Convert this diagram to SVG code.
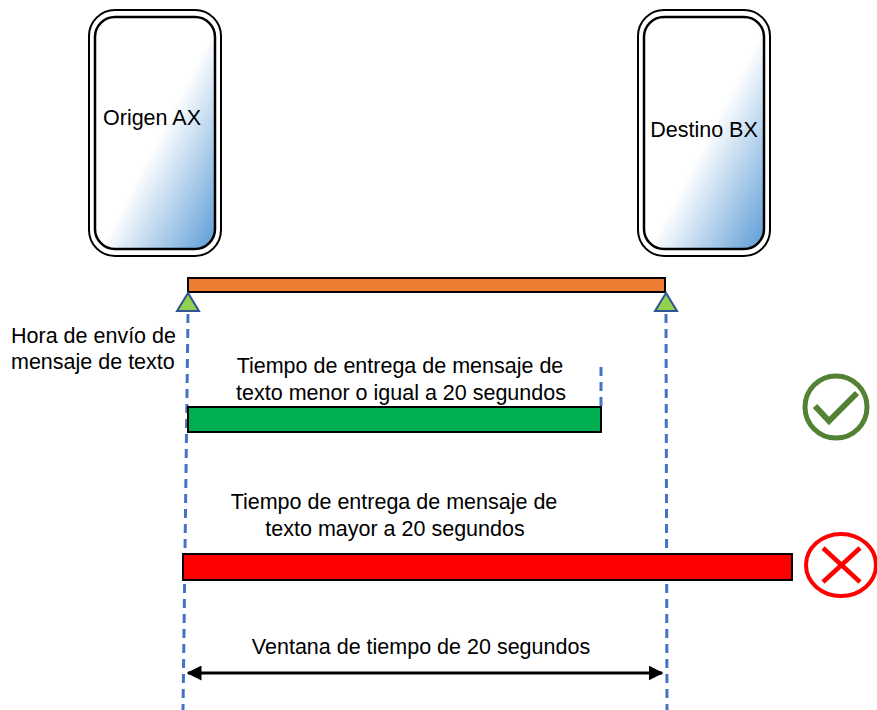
<svg xmlns="http://www.w3.org/2000/svg" width="877" height="710" viewBox="0 0 877 710">
<defs>
<linearGradient id="ph" x1="0" y1="0" x2="1" y2="1">
<stop offset="0" stop-color="#ffffff"/>
<stop offset="0.52" stop-color="#ffffff"/>
<stop offset="1" stop-color="#5b9bd5"/>
</linearGradient>
<marker id="ah" viewBox="0 0 10 10" refX="9" refY="5" markerWidth="5" markerHeight="5" orient="auto-start-reverse" markerUnits="strokeWidth">
<path d="M0,0 L10,5 L0,10 z" fill="#000"/>
</marker>
<style>
.t{font-family:"Liberation Sans",Arial,sans-serif;font-size:21.5px;fill:#000}
.outer{fill:#fff;stroke:#000;stroke-width:2}
.inner{fill:url(#ph);stroke:#000;stroke-width:2.5}
.dash{stroke:#4472c4;stroke-width:3;stroke-dasharray:9,6;fill:none}
.bar{stroke:#000;stroke-width:2}
.tri{fill:#92d050;stroke:#2f5597;stroke-width:2}
</style>
</defs>
<rect width="877" height="710" fill="#fff"/>
<g id="origen">
<rect class="outer" x="89" y="10" width="132" height="246" rx="26"/>
<rect class="inner" x="95" y="17" width="120" height="232" rx="20"/>
<text class="t" x="152" y="125" text-anchor="middle">Origen AX</text>
</g>
<g id="destino">
<rect class="outer" x="638" y="10" width="132" height="246" rx="26"/>
<rect class="inner" x="644" y="17" width="120" height="232" rx="20"/>
<text class="t" x="704" y="137" text-anchor="middle">Destino BX</text>
</g>
<g id="connectors">
<line class="dash" x1="188" y1="314" x2="183" y2="710"/>
<line class="dash" x1="666" y1="314" x2="667" y2="710"/>
<line class="dash" x1="601" y1="367" x2="601" y2="408"/>
<line x1="188" y1="673" x2="662" y2="673" stroke="#000" stroke-width="3" marker-start="url(#ah)" marker-end="url(#ah)"/>
</g>
<g id="barra-total">
<rect class="bar" x="188" y="278" width="477" height="14" fill="#ed7d31"/>
<polygon class="tri" points="188,293 177,311 199,311"/>
<polygon class="tri" points="666,293 655,311 677,311"/>
</g>
<g id="hora">
<text class="t" x="11" y="343">Hora de envío de</text>
<text class="t" x="11" y="369">mensaje de texto</text>
</g>
<g id="menor">
<text class="t" x="400" y="373" text-anchor="middle">Tiempo de entrega de mensaje de</text>
<text class="t" x="401" y="400" text-anchor="middle">texto menor o igual a 20 segundos</text>
<rect class="bar" x="188" y="407" width="413" height="25" fill="#00b050"/>
</g>
<g id="ok">
<circle cx="836" cy="407" r="31" fill="none" stroke="#548235" stroke-width="5"/>
<polyline points="815,406 829,421 857,393" fill="none" stroke="#548235" stroke-width="6"/>
</g>
<g id="mayor">
<text class="t" x="394" y="509" text-anchor="middle">Tiempo de entrega de mensaje de</text>
<text class="t" x="395" y="536" text-anchor="middle">texto mayor a 20 segundos</text>
<rect class="bar" x="183" y="554" width="609" height="26" fill="#ff0000"/>
</g>
<g id="fail">
<ellipse cx="841" cy="565" rx="35" ry="31" fill="none" stroke="#ff0000" stroke-width="4"/>
<line x1="823" y1="548" x2="860" y2="582" stroke="#ff0000" stroke-width="4.5"/>
<line x1="860" y1="548" x2="823" y2="582" stroke="#ff0000" stroke-width="4.5"/>
</g>
<g id="ventana">
<text class="t" x="421" y="654" text-anchor="middle">Ventana de tiempo de 20 segundos</text>
</g>
</svg>
